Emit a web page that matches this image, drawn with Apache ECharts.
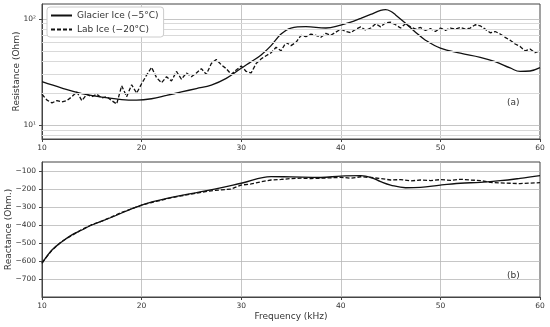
<!DOCTYPE html>
<html><head><meta charset="utf-8">
<script src="https://cdn.jsdelivr.net/npm/echarts@6/dist/echarts.min.js"></script>
<style>html,body{margin:0;padding:0;background:#fff}#c{width:550px;height:327px}</style>
</head><body><div id="c"></div><script>
var seriesNames = ['Glacier Ice (\u22125\u00b0C)', 'Lab Ice (\u221220\u00b0C)'];

var glacierResFreq = [10, 12, 14, 16, 18, 19.5, 21, 22.5, 24, 25.5, 27, 28.5, 30, 31, 32, 33, 34, 35, 36.5, 38.5, 40, 41, 42, 43, 44, 44.5, 45, 45.5, 46.5, 47.5, 48.5, 50, 52, 54, 55.5, 57, 58, 59, 60];
var glacierRes = [25.6, 22.3, 19.8, 18.3, 17.4, 17.2, 17.7, 19, 20.5, 22.1, 23.8, 27.5, 34.3, 39.5, 45.7, 56, 72, 82, 84.5, 82, 87.5, 93, 101, 110, 120, 122, 118, 109, 91, 75, 63, 53, 47.5, 43.5, 39.5, 34.5, 32, 32.3, 34.7];

var labResFreq = [10,10.5,11,11.5,12,12.5,13,13.5,14,14.5,15,15.5,16,16.5,17,17.5,18,18.5,19,19.5,20,20.5,21,21.5,22,22.5,23,23.5,24,24.5,25,25.5,26,26.5,27,27.5,28,28.5,29,29.5,30,30.5,31,31.5,32,32.5,33,33.5,34,34.5,35,35.5,36,36.5,37,37.5,38,38.5,39,39.5,40,40.5,41,41.5,42,42.5,43,43.5,44,44.5,45,45.5,46,46.5,47,47.5,48,48.5,49,49.5,50,50.5,51,51.5,52,52.5,53,53.5,54,54.5,55,55.5,56,56.5,57,57.5,58,58.5,59,59.5,60];
var labRes = [19.5,17.2,16.2,17,16.5,17,18.5,20.5,17,19.5,18.5,19.5,18,18.5,17,15.8,23.5,18.5,24,20,24.5,29.5,35,28,25,28.5,26,32,27,31,28.5,31,34,30,38,41.5,37,34,30,33,36,32,31,38,42,45,48,54,50,60,56,60,70,68,72,70,67,73,70,75,80,76,74,80,84,78,82,90,84,92,93,88,82,90,84,80,83,78,81,76,82,78,82,80,83,80,82,88,86,80,74,76,72,67,63,58,55,50,52,48,50];

var glacierReaFreq = [10, 11, 12, 13, 14, 15, 17, 20, 23, 26, 30, 33, 35, 38, 40, 42, 43, 44, 45, 46.5, 48, 50, 52, 54, 56, 58, 60];
var glacierRea = [-613, -539, -493, -455, -428, -400, -357, -289, -246, -215, -168, -131, -133, -136, -128, -126, -135, -159, -178, -193, -191, -178, -168, -163, -154, -141, -126];

var labReaFreq = [10,11,12,13,14,15,16,17,18,19,20,21,22,23,24,25,26,27,28,29,30,31,32,33,34,35,36,37,38,39,40,41,42,43,44,45,46,47,48,49,50,51,52,53,54,55,56,57,58,59,60];
var labRea = [-610,-540,-490,-458,-425,-398,-378,-355,-330,-310,-290,-275,-262,-248,-238,-228,-218,-210,-205,-200,-178,-172,-160,-150,-147,-142,-140,-142,-140,-138,-135,-140,-132,-136,-142,-150,-148,-155,-150,-153,-148,-152,-146,-150,-153,-163,-166,-168,-170,-167,-165];

var resMinorTicks = [8, 9, 20, 30, 40, 50, 60, 70, 80, 90];
var xTicks = {min: 10, max: 60, step: 10};
var resRange = {min: 7.4, max: 138};
var reaRange = {min: -800, max: -50, step: 100};
var panelLabels = ['(a)', '(b)'];

function pairs(xs, ys) { return xs.map(function (x, i) { return [x, ys[i]]; }); }

var FONT = 'DejaVu Sans';
var TXT = '#333';
var AX = '#444';
var GRIDC = '#b8b8b8';

function xAxisCfg(gi, withName) {
  return {
    type: 'value', gridIndex: gi, min: xTicks.min, max: xTicks.max, interval: xTicks.step,
    name: withName ? 'Frequency (kHz)' : '', nameLocation: 'middle', nameGap: 15, nameMoveOverlap: false,
    nameTextStyle: {fontFamily: FONT, fontSize: 9, color: TXT},
    axisLine: {show: true, lineStyle: {color: AX, width: 1}},
    axisTick: {show: true, length: 3, lineStyle: {color: AX}},
    axisLabel: {fontFamily: FONT, fontSize: 7.5, color: TXT, margin: 5},
    splitLine: {show: true, showMinLine: false, showMaxLine: false, lineStyle: {color: GRIDC, width: 0.8}}
  };
}

var option = {
  animation: false,
  backgroundColor: '#fff',
  grid: [
    {left: 42, right: 10, top: 4, height: 135, show: true, borderColor: AX, borderWidth: 1, backgroundColor: 'transparent', containLabel: false, outerBoundsMode: 'none'},
    {left: 42, right: 10, top: 162, height: 135, show: true, borderColor: AX, borderWidth: 1, backgroundColor: 'transparent', containLabel: false, outerBoundsMode: 'none'}
  ],
  legend: {
    data: seriesNames,
    orient: 'vertical', left: 47, top: 7, z: 20,
    padding: [4, 5, 3, 3], itemGap: 5, itemWidth: 21, itemHeight: 10,
    backgroundColor: '#fff', borderColor: '#ccc', borderWidth: 1, borderRadius: 3,
    itemStyle: {opacity: 0, borderWidth: 0},
    textStyle: {fontFamily: FONT, fontSize: 9, color: TXT}
  },
  xAxis: [xAxisCfg(0, false), xAxisCfg(1, true)],
  yAxis: [
    {
      type: 'log', logBase: 10, gridIndex: 0, min: resRange.min, max: resRange.max,
      name: 'Resistance (Ohm)', nameLocation: 'middle', nameGap: 21, nameMoveOverlap: false,
      nameTextStyle: {fontFamily: FONT, fontSize: 9, color: TXT},
      axisLine: {show: true, lineStyle: {color: AX}},
      axisTick: {show: true, length: 3, lineStyle: {color: AX}},
      axisLabel: {fontFamily: FONT, fontSize: 7.5, color: TXT, margin: 6, showMinLabel: false, showMaxLabel: false,
        formatter: function (v) { var e = Math.round(Math.log10(v)); if (Math.abs(Math.log10(v) - e) > 1e-6) return ''; return '10' + ['\u2070','\u00b9','\u00b2','\u00b3'][e]; }},
      splitLine: {show: true, showMinLine: false, showMaxLine: false, lineStyle: {color: GRIDC, width: 0.8}}
    },
    {
      type: 'value', gridIndex: 1, min: reaRange.min, max: reaRange.max, interval: reaRange.step,
      name: 'Reactance (Ohm.)', nameLocation: 'middle', nameGap: 29, nameMoveOverlap: false,
      nameTextStyle: {fontFamily: FONT, fontSize: 9, color: TXT},
      axisLine: {show: true, lineStyle: {color: AX}},
      axisTick: {show: true, length: 3, lineStyle: {color: AX}},
      axisLabel: {fontFamily: FONT, fontSize: 7.5, color: TXT, margin: 6, showMinLabel: false, showMaxLabel: false,
        formatter: function (v) { return String(v).replace('-', '\u2212'); }},
      splitLine: {show: true, showMinLine: false, showMaxLine: false, lineStyle: {color: GRIDC, width: 0.8}}
    }
  ],
  series: [
    {
      type: 'line', name: 'minor', xAxisIndex: 0, yAxisIndex: 0, data: [], z: 1, silent: true,
      markLine: {silent: true, symbol: 'none', label: {show: false},
        lineStyle: {color: '#d9d9d9', width: 1, type: 'solid'},
        data: resMinorTicks.map(function (v) { return {yAxis: v}; })}
    },
    {
      type: 'line', name: seriesNames[0], xAxisIndex: 0, yAxisIndex: 0, data: pairs(glacierResFreq, glacierRes),
      showSymbol: false, symbol: 'none', smooth: 0.4, z: 3,
      lineStyle: {color: '#111', width: 1.3, type: 'solid'}, itemStyle: {color: '#111'}
    },
    {
      type: 'line', name: seriesNames[1], xAxisIndex: 0, yAxisIndex: 0, data: pairs(labResFreq, labRes),
      showSymbol: false, symbol: 'none', z: 3,
      lineStyle: {color: '#111', width: 1.3, type: [4, 2]}, itemStyle: {color: '#111'}
    },
    {
      type: 'line', name: seriesNames[0], xAxisIndex: 1, yAxisIndex: 1, data: pairs(glacierReaFreq, glacierRea),
      showSymbol: false, symbol: 'none', smooth: 0.4, z: 3,
      lineStyle: {color: '#111', width: 1.3, type: 'solid'}, itemStyle: {color: '#111'}
    },
    {
      type: 'line', name: seriesNames[1], xAxisIndex: 1, yAxisIndex: 1, data: pairs(labReaFreq, labRea),
      showSymbol: false, symbol: 'none', z: 3,
      lineStyle: {color: '#111', width: 1.3, type: [4, 2]}, itemStyle: {color: '#111'}
    }
  ],
  graphic: [
    {type: 'text', left: 507, top: 98, style: {text: panelLabels[0], font: '9px "DejaVu Sans"', fill: TXT}},
    {type: 'text', left: 507, top: 271, style: {text: panelLabels[1], font: '9px "DejaVu Sans"', fill: TXT}}
  ]
};

var chart = echarts.init(document.getElementById('c'), null, {renderer: 'canvas'});
chart.setOption(option);
</script></body></html>
